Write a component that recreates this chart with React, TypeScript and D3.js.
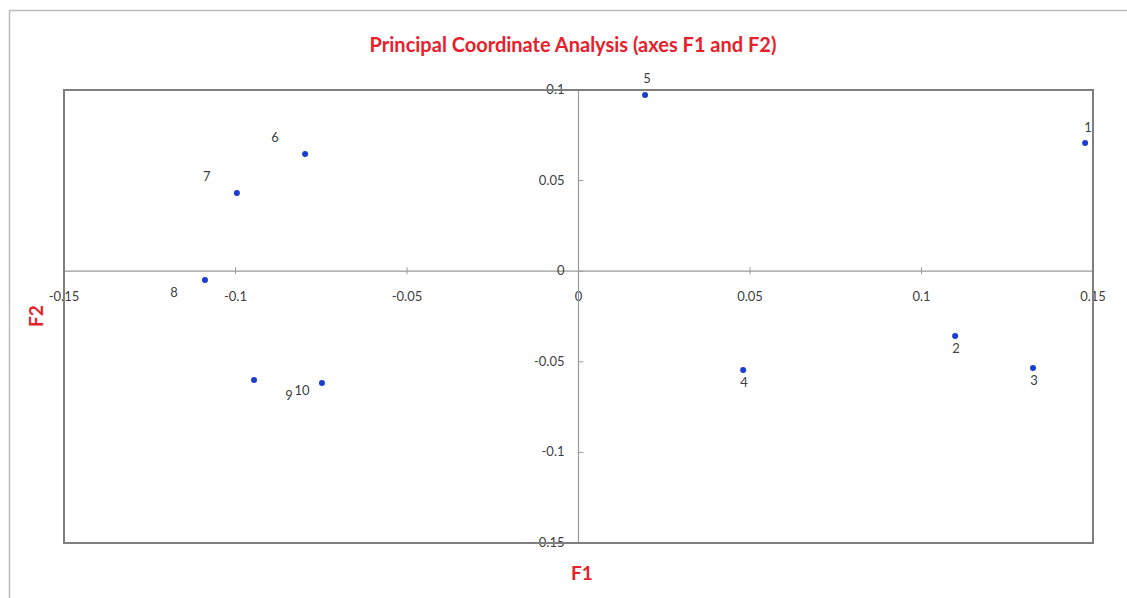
/**
 * PCoA scatter — observations on axes F1 / F2 with labels.
 */
import { useEffect, useRef } from 'react';
import * as d3 from 'd3';

const labels = ['1', '2', '3', '4', '5', '6', '7', '8', '9', '10'];
const f1 = [0.1477, 0.1098, 0.1325, 0.048, 0.0194, -0.0797, -0.0996, -0.1089, -0.0946, -0.0748];
const f2 = [0.0708, -0.0358, -0.0534, -0.0545, 0.0972, 0.0647, 0.0432, -0.0049, -0.06, -0.0617];
// where each label sits relative to its point
const placement = ['aboveRight', 'below', 'below', 'below', 'above', 'aboveLeft', 'aboveLeft', 'belowLeft', 'farRight', 'belowLeft2'];

const xTicks = [-0.15, -0.1, -0.05, 0, 0.05, 0.1, 0.15];
const yTicks = [-0.15, -0.1, -0.05, 0, 0.05, 0.1];

const W = 1127;
const H = 598;
const FONT = 'Lato, "Open Sans", sans-serif';

const OFFSETS: Record<string, [number, number]> = {
    aboveRight: [3, -11],
    above: [2, -12],
    below: [1, 17],
    aboveLeft: [-30, -12],
    belowLeft: [-31, 17],
    farRight: [35, 20],
    belowLeft2: [-20, 12],
};

export default function App() {
    const svgRef = useRef<SVGSVGElement>(null);

    useEffect(() => {
        const svg = d3.select(svgRef.current);
        svg.selectAll('*').remove();

        const left = 64, right = 1093, top = 90, bottom = 543;
        const x = d3.scaleLinear().domain([-0.15, 0.15]).range([left, right]);
        const y = d3.scaleLinear().domain([-0.15, 0.1]).range([bottom, top]);

        // outer chart frame
        svg.append('rect')
            .attr('x', 9.5).attr('y', 10.5)
            .attr('width', W).attr('height', H)
            .attr('fill', '#fff')
            .attr('stroke', '#bdbdbd').attr('stroke-width', 1.5);

        svg.append('text')
            .attr('x', 573).attr('y', 52)
            .attr('text-anchor', 'middle')
            .style('font-family', FONT).style('font-weight', 700).style('font-size', '20px')
            .style('fill', '#e8202a')
            .text('Principal Coordinate Analysis (axes F1 and F2)');

        // zero axes
        const fmt = (d: number) => String(d);
        const gx = svg.append('g');
        gx.append('line')
            .attr('x1', left).attr('x2', right)
            .attr('y1', y(0)).attr('y2', y(0))
            .attr('stroke', '#9a9a9a').attr('stroke-width', 1.2);
        xTicks.forEach(t => {
            gx.append('line')
                .attr('x1', x(t)).attr('x2', x(t))
                .attr('y1', y(0) - 4).attr('y2', y(0) + 3)
                .attr('stroke', '#9a9a9a');
            gx.append('text')
                .attr('x', x(t)).attr('y', y(0) + 30)
                .attr('text-anchor', 'middle')
                .style('font-family', FONT).style('font-size', '13px').style('fill', '#404040')
                .text(fmt(t));
        });

        const gy = svg.append('g');
        gy.append('line')
            .attr('x1', x(0)).attr('x2', x(0))
            .attr('y1', top).attr('y2', bottom)
            .attr('stroke', '#9a9a9a').attr('stroke-width', 1.2);
        yTicks.forEach(t => {
            gy.append('line')
                .attr('x1', x(0)).attr('x2', x(0) + 5)
                .attr('y1', y(t)).attr('y2', y(t))
                .attr('stroke', '#9a9a9a');
            gy.append('text')
                .attr('x', x(0) - 14).attr('y', y(t) + 4)
                .attr('text-anchor', 'end')
                .style('font-family', FONT).style('font-size', '13px').style('fill', '#404040')
                .text(fmt(t));
        });

        // plot box
        svg.append('rect')
            .attr('x', left).attr('y', top)
            .attr('width', right - left).attr('height', bottom - top)
            .attr('fill', 'none')
            .attr('stroke', '#7f7f7f').attr('stroke-width', 2);

        // points + labels
        labels.forEach((lab, i) => {
            const px = x(f1[i]), py = y(f2[i]);
            svg.append('circle')
                .attr('cx', px).attr('cy', py).attr('r', 3)
                .attr('fill', '#1a3fd0');
            const [dx, dy] = OFFSETS[placement[i]];
            svg.append('text')
                .attr('x', px + dx).attr('y', py + dy)
                .attr('text-anchor', 'middle')
                .style('font-family', FONT).style('font-size', '13px').style('fill', '#404040')
                .text(lab);
        });

        // axis titles
        svg.append('text')
            .attr('x', 582).attr('y', 580)
            .attr('text-anchor', 'middle')
            .style('font-family', FONT).style('font-weight', 700).style('font-size', '19px')
            .style('fill', '#e8202a')
            .text('F1');

        svg.append('text')
            .attr('transform', 'translate(43,316) rotate(-90)')
            .attr('text-anchor', 'middle')
            .style('font-family', FONT).style('font-weight', 700).style('font-size', '19px')
            .style('fill', '#e8202a')
            .text('F2');
    }, []);

    return (
        <svg ref={svgRef} width={W} height={H}
            style={{ position: 'absolute', left: 0, top: 0, background: '#fff' }} />
    );
}
